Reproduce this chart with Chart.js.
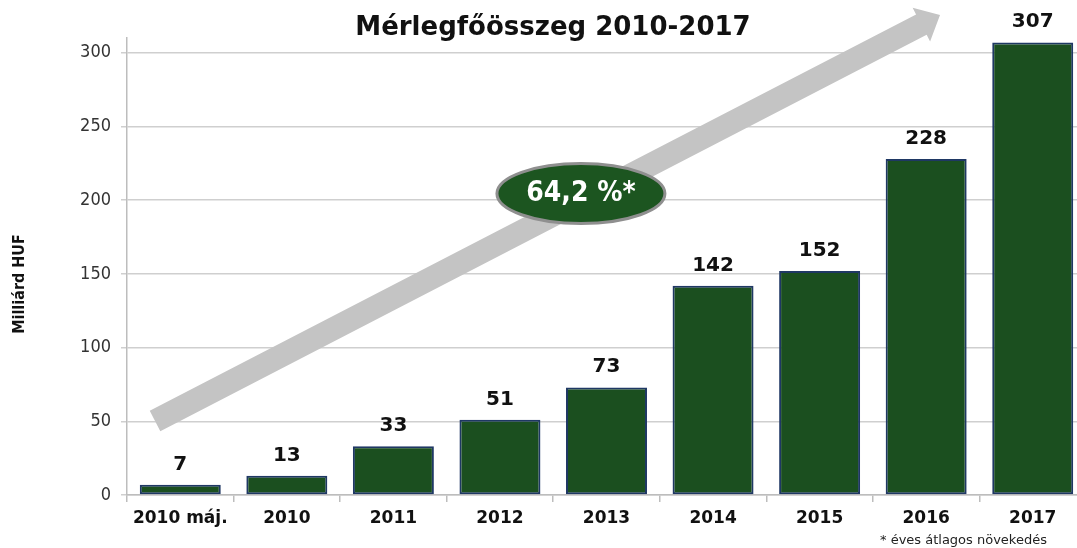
<!DOCTYPE html>
<html>
<head>
<meta charset="utf-8">
<script src="https://cdn.jsdelivr.net/npm/chart.js@4.4.1/dist/chart.umd.min.js"></script>
<style>
  html, body { margin: 0; padding: 0; background: #ffffff; overflow: hidden; }
  #wrap { width: 1086px; height: 548px; position: relative; }
</style>
</head>
<body>
<div id="wrap"><canvas id="c" width="1086" height="548"></canvas></div>
<script>
const categories = ['2010 máj.', '2010', '2011', '2012', '2013', '2014', '2015', '2016', '2017'];
const values = [7, 13, 33, 51, 73, 142, 152, 228, 307];
const yTicks = [0, 50, 100, 150, 200, 250, 300];
const titleText = 'Mérlegfőösszeg 2010-2017';
const yTitleText = 'Milliárd HUF';
const growthLabel = '64,2 %*';
const footnoteText = '* éves átlagos növekedés';

const FONT_C = '"DejaVu Sans Condensed", "DejaVu Sans", sans-serif';
const FONT_W = '"DejaVu Sans", sans-serif';

// Decoration anchors in data space (category index, value)
const arrowFrom = { i: -0.237, v: 50.2 };
const arrowTo = { i: 7.13, v: 325.6 };
const badgeAt = { i: 3.76, v: 204.5 };

const decorPlugin = {
  id: 'decor',
  beforeDatasetsDraw(chart) {
    const { ctx, scales: { x, y } } = chart;
    const px = (i) => x.getPixelForValue(0) + i * (x.getPixelForValue(1) - x.getPixelForValue(0));
    const x0 = px(arrowFrom.i), y0 = y.getPixelForValue(arrowFrom.v);
    const x1 = px(arrowTo.i), y1 = y.getPixelForValue(arrowTo.v);
    const dx = x1 - x0, dy = y1 - y0, len = Math.hypot(dx, dy);
    const ux = dx / len, uy = dy / len, nx = -uy, ny = ux;
    const hw = 11.5, headLen = 21, headW = 19;
    const bx = x1 - ux * headLen, by = y1 - uy * headLen;
    ctx.save();
    ctx.fillStyle = '#c4c4c4';
    ctx.beginPath();
    ctx.moveTo(x0 + nx * hw, y0 + ny * hw);
    ctx.lineTo(bx + nx * hw, by + ny * hw);
    ctx.lineTo(bx + nx * headW, by + ny * headW);
    ctx.lineTo(x1, y1);
    ctx.lineTo(bx - nx * headW, by - ny * headW);
    ctx.lineTo(bx - nx * hw, by - ny * hw);
    ctx.lineTo(x0 - nx * hw, y0 - ny * hw);
    ctx.closePath();
    ctx.fill();
    ctx.restore();
  },
  afterDatasetsDraw(chart) {
    const { ctx, scales: { x, y } } = chart;
    const meta = chart.getDatasetMeta(0);
    ctx.save();
    // value labels
    ctx.fillStyle = '#111111';
    ctx.font = 'bold 20px ' + FONT_W;
    ctx.textAlign = 'center';
    ctx.textBaseline = 'alphabetic';
    meta.data.forEach((bar, idx) => {
      ctx.fillText(String(values[idx]), bar.x, bar.y - 15);
    });
    // badge ellipse
    const px = (i) => x.getPixelForValue(0) + i * (x.getPixelForValue(1) - x.getPixelForValue(0));
    const cx = px(badgeAt.i), cy = y.getPixelForValue(badgeAt.v);
    ctx.beginPath();
    ctx.ellipse(cx, cy, 84, 30, 0, 0, Math.PI * 2);
    ctx.fillStyle = '#1c5520';
    ctx.fill();
    ctx.lineWidth = 3;
    ctx.strokeStyle = '#8f8f8f';
    ctx.stroke();
    ctx.fillStyle = '#ffffff';
    ctx.font = 'bold 28px ' + FONT_C;
    ctx.textBaseline = 'middle';
    ctx.fillText(growthLabel, cx, cy);
    ctx.restore();
  },
  afterDraw(chart) {
    const { ctx } = chart;
    ctx.save();
    ctx.fillStyle = '#111111';
    ctx.font = 'bold 26px ' + FONT_W;
    ctx.textAlign = 'center';
    ctx.textBaseline = 'alphabetic';
    ctx.fillText(titleText, 553, 35);
    // y title
    ctx.save();
    ctx.translate(20, 284);
    ctx.rotate(-Math.PI / 2);
    ctx.font = 'bold 16px ' + FONT_C;
    ctx.textBaseline = 'middle';
    ctx.fillText(yTitleText, 0, 0);
    ctx.restore();
    // footnote
    ctx.font = '13px ' + FONT_W;
    ctx.textAlign = 'left';
    ctx.fillStyle = '#222222';
    ctx.fillText(footnoteText, 880, 544);
    ctx.restore();
  }
};

new Chart(document.getElementById('c'), {
  type: 'bar',
  data: {
    labels: categories,
    datasets: [{
      data: values,
      backgroundColor: '#1b4f1f',
      borderColor: '#1f3864',
      borderWidth: 2,
      borderSkipped: false,
      barPercentage: 0.76,
      categoryPercentage: 1.0
    }]
  },
  options: {
    responsive: false,
    animation: false,
    devicePixelRatio: 1,
    layout: { padding: { left: 0, right: 0, top: 38, bottom: 0 } },
    plugins: { legend: { display: false }, title: { display: false }, tooltip: { enabled: false } },
    scales: {
      x: {
        grid: { offset: true, drawOnChartArea: false, tickLength: 7, color: '#bdbdbd', lineWidth: 1.5 },
        border: { color: '#bdbdbd', width: 1.5 },
        ticks: { color: '#111111', font: { family: FONT_W, size: 17, weight: 'bold' }, padding: 6, maxRotation: 0, autoSkip: false },
        afterFit(scale) { scale.height = 53; }
      },
      y: {
        min: 0, max: 310,
        afterBuildTicks(scale) { scale.ticks = yTicks.map(v => ({ value: v })); },
        grid: { color: '#cfcfcf', lineWidth: 1.5, tickLength: 6 },
        border: { color: '#bdbdbd', width: 1.5 },
        ticks: { color: '#333333', font: { family: FONT_C, size: 18 }, padding: 10 },
        afterFit(scale) { scale.width = 127; }
      }
    }
  },
  plugins: [decorPlugin]
});
</script>
</body>
</html>
